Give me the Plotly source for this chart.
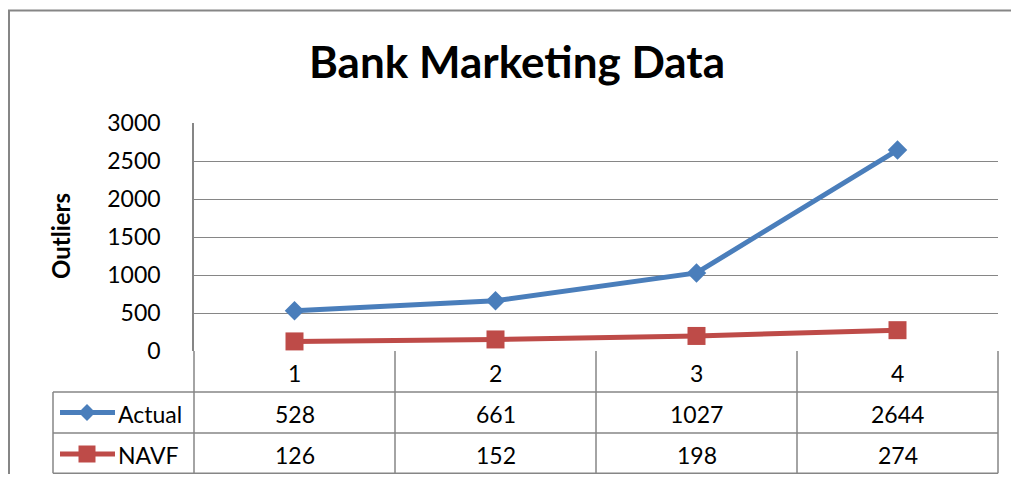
import plotly.graph_objects as go

# ---- data ----
categories = ["1", "2", "3", "4"]
actual = [528, 661, 1027, 2644]
navf = [126, 152, 198, 274]
series_names = ["Actual", "NAVF"]
y_ticks = [0, 500, 1000, 1500, 2000, 2500, 3000]

OFF = 8                      # page body margin of the browser
W, H = 1019 - 2 * OFF, 482 - 2 * OFF
FONT = "Lato"
GRID = "#868686"
BLUE = "#4A7EBB"
RED = "#BE4B48"

# layout geometry in reference-window pixels
PL, PR, PT, PB = 194, 998, 123, 351   # plot area
ROW1, ROW2, ROW3 = 392, 433, 473.3    # table row bottoms
TL = 53                                # table left (legend column)


def px(x):
    return (x - OFF) / W


def py(y):
    return 1 - (y - OFF) / H


fig = go.Figure()

xpos = [i + 0.5 for i in range(len(categories))]
fig.add_trace(go.Scatter(x=xpos, y=actual, mode="lines+markers", name="Actual",
                         line=dict(color=BLUE, width=5),
                         marker=dict(symbol="diamond", size=15, color=BLUE),
                         showlegend=False))
fig.add_trace(go.Scatter(x=xpos, y=navf, mode="lines+markers", name="NAVF",
                         line=dict(color=RED, width=5),
                         marker=dict(symbol="square", size=18, color=RED),
                         showlegend=False))

# outer chart border (overlay pixel axes)
fig.add_trace(go.Scatter(x=[9, 9, OFF + W + 2], y=[OFF + H + 2, 10.5, 10.5], mode="lines",
                         line=dict(color=GRID, width=2), xaxis="x2", yaxis="y2",
                         showlegend=False, hoverinfo="skip", cliponaxis=True))

# legend keys in the data table (overlay pixel axes)
icon_y = [(ROW1 + ROW2) / 2, 454]
fig.add_trace(go.Scatter(x=[60, 87, 115], y=[icon_y[0]] * 3, mode="lines",
                         line=dict(color=BLUE, width=5), xaxis="x2", yaxis="y2",
                         showlegend=False, hoverinfo="skip"))
fig.add_trace(go.Scatter(x=[87], y=[icon_y[0]], mode="markers",
                         marker=dict(symbol="diamond", size=13, color=BLUE),
                         xaxis="x2", yaxis="y2", showlegend=False, hoverinfo="skip"))
fig.add_trace(go.Scatter(x=[60, 87, 115], y=[icon_y[1]] * 3, mode="lines",
                         line=dict(color=RED, width=5), xaxis="x2", yaxis="y2",
                         showlegend=False, hoverinfo="skip"))
fig.add_trace(go.Scatter(x=[87], y=[icon_y[1]], mode="markers",
                         marker=dict(symbol="square", size=17, color=RED),
                         xaxis="x2", yaxis="y2", showlegend=False, hoverinfo="skip"))

shapes = []


def hline(y, x0, x1, w=1.5, color=GRID):
    shapes.append(dict(type="line", xref="paper", yref="paper",
                       x0=px(x0), x1=px(x1), y0=py(y), y1=py(y),
                       line=dict(color=color, width=w)))


def vline(x, y0, y1, w=1.5, color=GRID):
    shapes.append(dict(type="line", xref="paper", yref="paper",
                       x0=px(x), x1=px(x), y0=py(y0), y1=py(y1),
                       line=dict(color=color, width=w)))


# data table grid
col_x = [PL + (PR - PL) * i / len(categories) for i in range(len(categories) + 1)]
for cx in col_x:
    vline(cx, PB, ROW3)
vline(TL, ROW1, ROW3)
for ry in (ROW1, ROW2, ROW3):
    hline(ry, TL, PR)

annotations = []
fs = 23


def text(t, x, y, size=fs, xanchor="center", angle=0):
    annotations.append(dict(text=t, x=px(x), y=py(y), xref="paper", yref="paper",
                            xanchor=xanchor, yanchor="middle", textangle=angle,
                            showarrow=False,
                            font=dict(family=FONT, size=size, color="black")))


for i, c in enumerate(categories):
    cx = (col_x[i] + col_x[i + 1]) / 2
    text(c, cx, (PB + ROW1) / 2 + 1)
    text(str(actual[i]), cx, (ROW1 + ROW2) / 2 + 1)
    text(str(navf[i]), cx, 455)
for name, yy in zip(series_names, icon_y):
    text(name, 116, yy + 1, xanchor="left")

# y axis title
text("<b>Outliers</b>", 60, 236, size=24, angle=-90)

fig.update_layout(
    width=W, height=H,
    margin=dict(l=0, r=0, t=0, b=0, autoexpand=False),
    paper_bgcolor="white",
    plot_bgcolor="rgba(0,0,0,0)",
    title=dict(text="<b>Bank Marketing Data</b>", x=px(517), y=py(63), xanchor="center",
               yanchor="middle", font=dict(family=FONT, size=44, color="black")),
    xaxis=dict(domain=[px(PL), px(PR)], range=[0, len(categories)], showticklabels=False,
               showgrid=False, zeroline=False, showline=False, ticks="", fixedrange=True,
               automargin=False),
    yaxis=dict(domain=[py(PB), py(PT)], range=[0, 3000], tickvals=y_ticks,
               showgrid=True, gridcolor=GRID, gridwidth=1.3, zeroline=False,
               showline=True, linecolor=GRID, linewidth=1.5,
               ticks="", ticklabelstandoff=27, automargin=False,
               tickfont=dict(family=FONT, size=fs, color="black")),
    xaxis2=dict(domain=[0, 1], range=[OFF, OFF + W], visible=False, anchor="y2",
                fixedrange=True, automargin=False),
    yaxis2=dict(domain=[0, 1], range=[OFF + H, OFF], visible=False, anchor="x2",
                fixedrange=True, automargin=False),
    shapes=shapes,
    annotations=annotations,
    font=dict(family=FONT),
)

fig.write_html("out.html")
